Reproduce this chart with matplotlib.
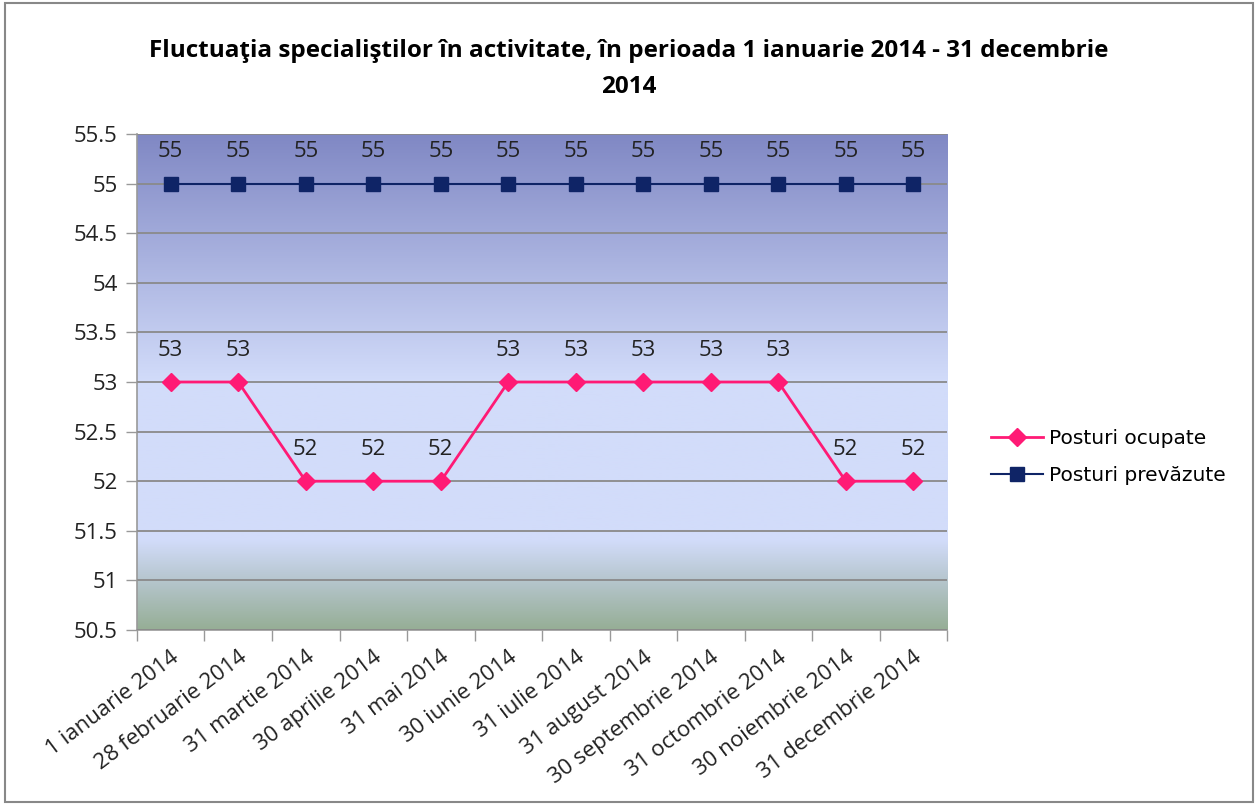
import numpy as np
import matplotlib
matplotlib.use("Agg")
from matplotlib import pyplot as plt
from matplotlib.colors import LinearSegmentedColormap
from matplotlib.patches import Rectangle

plt.rcParams['font.family'] = ['Open Sans', 'DejaVu Sans']

dates = ["1 ianuarie 2014", "28 februarie 2014", "31 martie 2014", "30 aprilie 2014",
         "31 mai 2014", "30 iunie 2014", "31 iulie 2014", "31 august 2014",
         "30 septembrie 2014", "31 octombrie 2014", "30 noiembrie 2014", "31 decembrie 2014"]
ocupate = [53, 53, 52, 52, 52, 53, 53, 53, 53, 53, 52, 52]
prevazute = [55, 55, 55, 55, 55, 55, 55, 55, 55, 55, 55, 55]
yticks = [50.5, 51, 51.5, 52, 52.5, 53, 53.5, 54, 54.5, 55, 55.5]

title = u"Fluctuaţia specialiştilor în activitate, în perioada 1 ianuarie 2014 - 31 decembrie\n2014"

f1 = plt.figure(figsize=(12.58, 8.05), dpi=100)
f1.patches.append(Rectangle((0.004, 0.004), 0.992, 0.992, transform=f1.transFigure,
                            fill=False, edgecolor='#888888', linewidth=1.5))
f1.suptitle(title, x=0.5, y=0.951, fontsize=17.5, fontweight='bold', linespacing=1.65)

ax = f1.add_axes([0.1089, 0.2174, 0.6439, 0.6161])

# gradient background
cmap = LinearSegmentedColormap.from_list('bg', [
    (0.0, '#96AE96'), (0.10, '#B6C6CE'), (0.18, '#D2DCFA'),
    (0.50, '#D2DCFA'), (1.0, '#8088C4')])
grad = np.linspace(0, 1, 256).reshape(-1, 1)
x = np.arange(len(dates))
ax.imshow(grad, aspect='auto', cmap=cmap, origin='lower',
          extent=(-0.5, len(dates) - 0.5, 50.5, 55.5), zorder=0)

ax.set_xlim(-0.5, len(dates) - 0.5)
ax.set_ylim(50.5, 55.5)
ax.set_yticks(yticks)
ax.set_yticklabels(["%g" % v for v in yticks], fontsize=16, color='#222222')
ax.yaxis.grid(True, color='#8a8a8a', linewidth=1.3, zorder=1)
ax.set_axisbelow(False)

# x ticks between categories
ax.set_xticks(np.arange(-0.5, len(dates), 1.0))
ax.set_xticklabels([])
ax.tick_params(axis='x', length=8, color='#999999', width=1)
ax.tick_params(axis='y', length=8, color='#999999', width=1, pad=6)
ax.set_xticks(x, minor=True)
ax.set_xticklabels(dates, minor=True, rotation=37, ha='right', rotation_mode='anchor',
                   fontsize=16, color='#222222')
ax.tick_params(axis='x', which='minor', length=0, pad=12)

for s in ['top', 'right']:
    ax.spines[s].set_visible(False)
for s in ['left', 'bottom']:
    ax.spines[s].set_color('#999999')
    ax.spines[s].set_linewidth(1.2)

l1, = ax.plot(x, ocupate, color='#FF1A75', marker='D', markersize=9, linewidth=2,
              label='Posturi ocupate', zorder=3)
l2, = ax.plot(x, prevazute, color='#0F2466', marker='s', markersize=10, linewidth=1.5,
              label=u'Posturi prevăzute', zorder=3)

for xi, v in zip(x, ocupate):
    ax.annotate("%d" % v, (xi, v), xytext=(0, 23), textcoords='offset points',
                ha='center', va='center', fontsize=16, color='#222222')
for xi, v in zip(x, prevazute):
    ax.annotate("%d" % v, (xi, v), xytext=(0, 23), textcoords='offset points',
                ha='center', va='center', fontsize=16, color='#222222')

f1.legend(handles=[l1, l2], loc='center left', bbox_to_anchor=(0.773, 0.432),
          frameon=False, handlelength=2.6, labelspacing=0.9,
          handletextpad=0.3, prop={'family': 'DejaVu Sans', 'size': 14.5})

f1.savefig('out.png', dpi=100)
